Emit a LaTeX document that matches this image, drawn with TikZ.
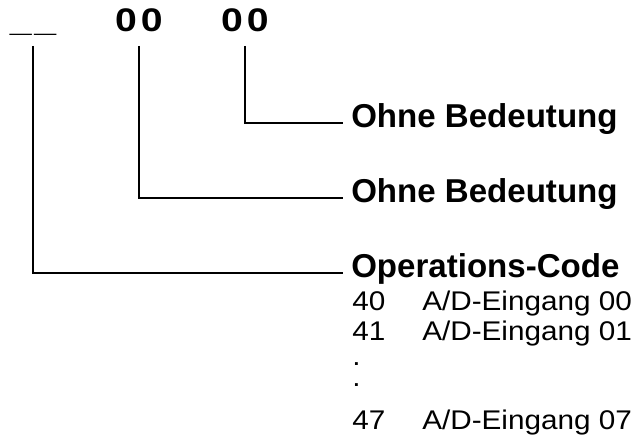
\documentclass[tikz,border=0pt]{standalone}
\usepackage{fontspec}
\setmainfont{Liberation Sans}
\newfontfamily\widefont[FakeStretch=1.2]{Liberation Sans}
\newfontfamily\listfont[FakeStretch=1.1]{Liberation Sans}
\usetikzlibrary{positioning}

\tikzset{
    kopf/.style={font=\widefont\bfseries\fontsize{24.5}{28}\selectfont, inner sep=0pt, anchor=base},
    feld/.style={font=\bfseries\fontsize{24.8}{28}\selectfont, inner sep=0pt, anchor=base west},
    zeile/.style={font=\listfont\fontsize{20.25}{24}\selectfont, inner sep=0pt, anchor=base west},
    leitung/.style={line width=1.5pt}
}

\begin{document}
\begin{tikzpicture}[x=0.75pt,y=-0.75pt]
            \useasboundingbox (0,0) rectangle (636,441); %Rahmen wie im Original
            \node[kopf] (code) at (33,32) {\_\kern2pt\_};
            \node[kopf] (byte1) at (139,32) {0\kern3pt0};
            \node[kopf] (byte2) at (245,32) {0\kern3pt0};
            \node[feld] (ohne1) at (351,128) {Ohne Bedeutung};
            \node[feld] (ohne2) at (351,203) {Ohne Bedeutung};
            \node[feld] (opcode) at (351,278) {Operations-Code};
            \draw[leitung] ([yshift=-10.5pt]byte2.base) |- ([shift={(-6pt,3.75pt)}]ohne1.base west);
            \draw[leitung] ([yshift=-10.5pt]byte1.base) |- ([shift={(-6pt,3.75pt)}]ohne2.base west);
            \draw[leitung] ([yshift=-10.5pt]code.base) |- ([shift={(-6pt,3.75pt)}]opcode.base west);
            \node[zeile] (n40) at (352,311) {40};
            \node[zeile] (e40) at (422,311) {A/D-Eingang 00};
            \node[zeile] (n41) at (352,341) {41};
            \node[zeile] (e41) at (422,341) {A/D-Eingang 01};
            \node[zeile] (p1) at (352,366) {.};
            \node[zeile] (p2) at (352,387) {.};
            \node[zeile] (n47) at (352,430) {47};
            \node[zeile] (e47) at (422,430) {A/D-Eingang 07};
        \end{tikzpicture}
\end{document}
